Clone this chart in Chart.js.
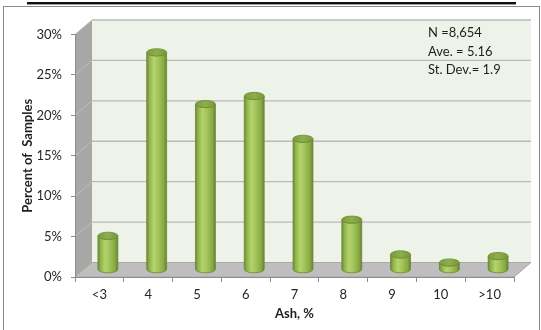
<!DOCTYPE html>
<html>
<head>
<meta charset="utf-8">
<script src="https://cdn.jsdelivr.net/npm/chart.js@4/dist/chart.umd.min.js"></script>
<style>
  html, body { margin: 0; padding: 0; background: #ffffff; }
  canvas { display: block; }
</style>
</head>
<body>
<canvas id="ashChart" width="541" height="330"></canvas>
<script>
// Ash content distribution
const categories = ['<3', '4', '5', '6', '7', '8', '9', '10', '>10'];
const percentOfSamples = [4.2, 26.9, 20.5, 21.5, 16.2, 6.2, 1.9, 0.9, 1.7];
const yTickValues = [0, 5, 10, 15, 20, 25, 30];
const statsLines = ['N =8,654', 'Ave. = 5.16', 'St. Dev.= 1.9'];

// Perspective offset of the back wall relative to the front plane
const DEPTH_X = 17;
const DEPTH_Y = 14.5;

Chart.defaults.font.family = 'Lato, "Noto Sans", sans-serif';
Chart.defaults.font.size = 13;
Chart.defaults.color = '#262626';

// Walls, floor and back-wall gridlines of the 3D frame
const framePlugin = {
  id: 'frame3d',
  beforeDraw(chart) {
    const { ctx, chartArea: a, scales } = chart;
    const y = scales.y;
    ctx.save();
    ctx.fillStyle = '#ffffff';
    ctx.fillRect(0, 0, chart.width, chart.height);

    // header rule
    ctx.fillStyle = '#111111';
    ctx.fillRect(27, 2, 489, 2);
    ctx.fillStyle = '#9a9a9a';
    ctx.fillRect(27, 4, 489, 1);

    // chart border
    ctx.strokeStyle = '#8c8c8c';
    ctx.lineWidth = 1;
    ctx.strokeRect(3.5, 6.5, 536, 340);

    const bx = a.left + DEPTH_X;
    const bTop = a.top - DEPTH_Y;
    const bBottom = a.bottom - DEPTH_Y;
    const bRight = a.right + DEPTH_X;

    // back wall
    ctx.fillStyle = '#eef3ea';
    ctx.fillRect(bx, bTop, bRight - bx, bBottom - bTop);

    // side wall
    ctx.beginPath();
    ctx.moveTo(a.left, a.bottom);
    ctx.lineTo(a.left, a.top);
    ctx.lineTo(bx, bTop);
    ctx.lineTo(bx, bBottom);
    ctx.closePath();
    ctx.fillStyle = '#a7a8a6';
    ctx.fill();

    // floor
    ctx.beginPath();
    ctx.moveTo(a.left, a.bottom);
    ctx.lineTo(bx, bBottom);
    ctx.lineTo(bRight, bBottom);
    ctx.lineTo(a.right, a.bottom);
    ctx.closePath();
    ctx.fillStyle = '#bebebe';
    ctx.fill();
    ctx.strokeStyle = '#a9a9a9';
    ctx.stroke();

    // gridlines: diagonal on the side wall, horizontal on the back wall
    yTickValues.forEach(v => {
      if (v === 0) return;
      const py = y.getPixelForValue(v);
      ctx.beginPath();
      ctx.moveTo(a.left, py);
      ctx.lineTo(bx, py - DEPTH_Y);
      ctx.strokeStyle = '#bdbdbd';
      ctx.lineWidth = 1;
      ctx.stroke();
      ctx.beginPath();
      ctx.moveTo(bx, py - DEPTH_Y);
      ctx.lineTo(bRight, py - DEPTH_Y);
      ctx.strokeStyle = '#b9bbb7';
      ctx.lineWidth = 1.3;
      ctx.stroke();
    });
    ctx.restore();
  },

  // cylinders placed at mid-depth of the floor
  afterDatasetsDraw(chart) {
    const { ctx } = chart;
    const meta = chart.getDatasetMeta(0);
    ctx.save();
    meta.data.forEach(bar => {
      const cx = bar.x + DEPTH_X / 2;
      const topY = bar.y - DEPTH_Y / 2;
      const baseY = bar.base - DEPTH_Y / 2;
      const rx = bar.width / 2;
      const ry = 3.6;

      const body = ctx.createLinearGradient(cx - rx, 0, cx + rx, 0);
      body.addColorStop(0, '#6c8932');
      body.addColorStop(0.12, '#8eb04a');
      body.addColorStop(0.35, '#b3d36c');
      body.addColorStop(0.55, '#a6c75d');
      body.addColorStop(0.85, '#88a943');
      body.addColorStop(1, '#688430');

      ctx.beginPath();
      ctx.moveTo(cx - rx, topY);
      ctx.lineTo(cx - rx, baseY);
      ctx.ellipse(cx, baseY, rx, ry, 0, Math.PI, 0, true);
      ctx.lineTo(cx + rx, topY);
      ctx.ellipse(cx, topY, rx, ry, 0, 0, Math.PI, false);
      ctx.closePath();
      ctx.fillStyle = body;
      ctx.fill();
      ctx.strokeStyle = '#6a8830';
      ctx.lineWidth = 0.8;
      ctx.stroke();

      const cap = ctx.createLinearGradient(cx - rx, 0, cx + rx, 0);
      cap.addColorStop(0, '#7c9c3e');
      cap.addColorStop(0.5, '#8caf4b');
      cap.addColorStop(1, '#79973b');
      ctx.beginPath();
      ctx.ellipse(cx, topY, rx, ry, 0, 0, Math.PI * 2);
      ctx.fillStyle = cap;
      ctx.fill();
      ctx.strokeStyle = '#6c8a31';
      ctx.stroke();
    });
    ctx.restore();
  },

  afterDraw(chart) {
    const { ctx, chartArea: a } = chart;
    ctx.save();
    ctx.font = '13px Lato, "Noto Sans", sans-serif';
    ctx.fillStyle = '#1f1f1f';
    ctx.textAlign = 'left';
    ctx.textBaseline = 'middle';
    statsLines.forEach((line, i) => {
      ctx.fillText(line, a.right - 86, a.top - 1.5 + i * 18.5);
    });
    ctx.restore();
  }
};

new Chart(document.getElementById('ashChart'), {
  type: 'bar',
  data: {
    labels: categories,
    datasets: [{
      label: 'Percent of Samples',
      data: percentOfSamples,
      backgroundColor: 'rgba(0,0,0,0)',
      borderWidth: 0,
      categoryPercentage: 0.8,
      barPercentage: 0.51
    }]
  },
  options: {
    responsive: false,
    animation: false,
    events: [],
    layout: { padding: { top: 34.5, right: 27, bottom: 0, left: 0 } },
    plugins: {
      legend: { display: false },
      tooltip: { enabled: false }
    },
    scales: {
      x: {
        afterFit(scale) { scale.height = 53; },
        grid: {
          offset: true,
          drawOnChartArea: false,
          drawTicks: true,
          tickLength: 5,
          color: '#8c8c8c'
        },
        border: { display: true, color: '#8c8c8c' },
        ticks: { padding: 5, color: '#262626' },
        title: {
          display: true,
          text: 'Ash, %',
          font: { weight: 'bold', size: 13 },
          color: '#1f1f1f',
          padding: { top: 0, bottom: 8 }
        }
      },
      y: {
        min: 0,
        max: 30,
        afterFit(scale) { scale.width = 75; },
        afterBuildTicks(scale) { scale.ticks = yTickValues.map(v => ({ value: v })); },
        grid: {
          drawOnChartArea: false,
          drawTicks: true,
          tickLength: 4,
          color: '#8c8c8c'
        },
        border: { display: true, color: '#8c8c8c' },
        ticks: {
          padding: 9,
          color: '#262626',
          callback: v => v + '%'
        },
        title: {
          display: true,
          text: 'Percent of  Samples',
          font: { weight: 'bold', size: 13 },
          color: '#1f1f1f',
          padding: { top: 20, bottom: 0 }
        }
      }
    }
  },
  plugins: [framePlugin]
});
</script>
</body>
</html>
